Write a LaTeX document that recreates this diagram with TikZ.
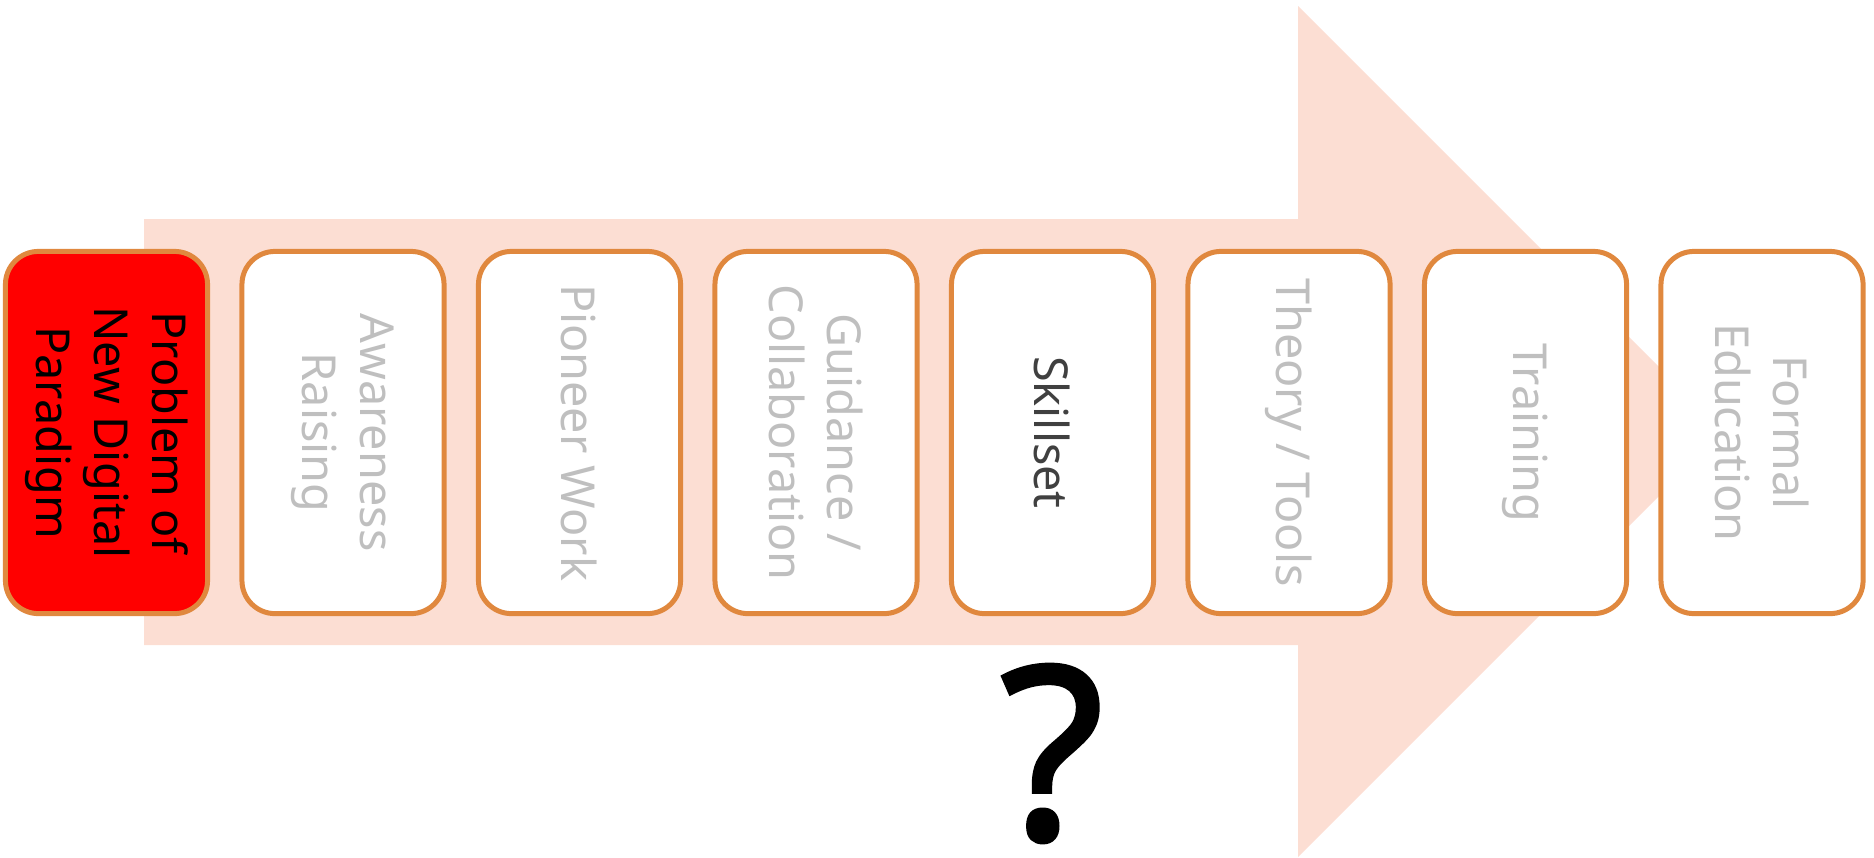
\documentclass[tikz,border=0pt]{standalone}
\usepackage{fontspec}
\setmainfont{Noto Sans}
\newfontfamily\markfont{Open Sans}[FakeBold=2.2]
\definecolor{arrowfill}{HTML}{FCDED3}
\definecolor{boxline}{HTML}{E0883E}
\definecolor{fadetext}{HTML}{BFBFBF}
\definecolor{darktext}{HTML}{404040}
\tikzset{
  stage/.style={draw=boxline, line width=1.42pt, fill=white, rounded corners=0.33cm,
    rotate=-90, minimum width=3.62cm, minimum height=2.02cm, inner sep=0pt,
    align=center, text=fadetext, font=\fontsize{13.3}{16.5}\selectfont},
}
\begin{document}
\begin{tikzpicture}[x=0.01cm,y=-0.01cm]
\useasboundingbox (0,0) rectangle (1874,857);

% big arrow behind the stages
\fill[arrowfill] (144,219) -- (1298,219) -- (1298,6) -- (1723.5,431.5)
  -- (1298,857) -- (1298,645) -- (144,645) -- cycle;

\node[stage,fill=red,text=black] (problem) at (106.5,432.5) {Problem of\\New Digital\\Paradigm};
\node[stage] (awareness) at (343,432.5) {Awareness\\Raising};
\node[stage] (pioneer) at (579.5,432.5) {Pioneer Work};
\node[stage] (guidance) at (816,432.5) {Guidance /\\Collaboration};
\node[stage,text=darktext] (skillset) at (1052.5,432.5) {Skillset};
\node[stage] (theory) at (1289,432.5) {Theory / Tools};
\node[stage] (training) at (1525.5,432.5) {Training};
\node[stage] (formal) at (1762,432.5) {Formal\\Education};

\node[inner sep=3pt,font=\markfont\fontsize{68}{72}\selectfont] (question) at (1052,753.5) {?};

\end{tikzpicture}
\end{document}
